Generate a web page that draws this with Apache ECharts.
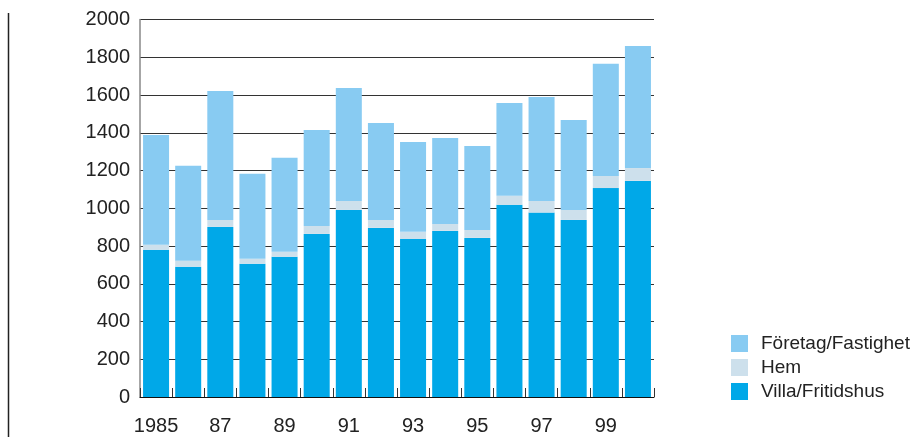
<!DOCTYPE html>
<html>
<head>
<meta charset="utf-8">
<script src="https://cdn.jsdelivr.net/npm/echarts@6/dist/echarts.min.js"></script>
<style>
html,body{margin:0;padding:0;background:#fff;}
#chart{width:915px;height:437px;}
</style>
</head>
<body>
<div id="chart"></div>
<script>
var categories = ['1985','86','87','88','89','90','91','92','93','94','95','96','97','98','99','2000'];
var villa = [780,690,901,706,743,864,991,896,838,880,843,1018,977,938,1107,1145];
var hem = [26,32,37,26,26,42,48,42,37,37,42,48,62,53,64,68];
var foretag = [582,503,683,451,498,509,598,514,476,455,445,492,551,477,594,647];
var yTicks = [0,200,400,600,800,1000,1200,1400,1600,1800,2000];
var seriesNames = ['Villa/Fritidshus','Hem','Företag/Fastighet'];

var colors = ['#00A8E8','#CDE0EC','#88CBF2'];
var font = 'Liberation Sans';
var chart = echarts.init(document.getElementById('chart'));
chart.setOption({
  animation: false,
  textStyle: {fontFamily: font},
  grid: {left: 140, right: 261, top: 19.5, bottom: 40},
  legend: {
    data: [seriesNames[2], seriesNames[1], seriesNames[0]],
    orient: 'vertical',
    left: 726, top: 329,
    itemWidth: 17, itemHeight: 17, itemGap: 5,
    icon: 'rect',
    textStyle: {fontFamily: font, fontSize: 19, color: '#222', padding: [0,0,0,8]}
  },
  xAxis: {
    type: 'category',
    data: categories,
    axisLine: {lineStyle: {color: '#111', width: 1}},
    axisTick: {show: true, inside: true, length: 9, interval: 0, lineStyle: {color: '#333'}},
    axisLabel: {interval: 1, fontSize: 20, color: '#222', margin: 19, fontFamily: font}
  },
  yAxis: {
    type: 'value',
    min: yTicks[0], max: yTicks[yTicks.length-1], interval: 200,
    axisLine: {show: true, lineStyle: {color: '#888', width: 1.5}},
    axisTick: {show: false},
    axisLabel: {fontSize: 20, color: '#222', margin: 10, fontFamily: font,
      formatter: function(v){ return String(v); }},
    splitLine: {show: true, lineStyle: {color: '#333', width: 1}}
  },
  series: [
    {name: seriesNames[0], type: 'bar', stack: 'a', data: villa, barCategoryGap: '19%', itemStyle: {color: colors[0]}},
    {name: seriesNames[1], type: 'bar', stack: 'a', data: hem, itemStyle: {color: colors[1]}},
    {name: seriesNames[2], type: 'bar', stack: 'a', data: foretag, itemStyle: {color: colors[2]}}
  ],
  graphic: [{
    type: 'line', shape: {x1: 8.5, y1: 13, x2: 8.5, y2: 437},
    style: {stroke: '#222', lineWidth: 1.5}
  }]
});
</script>
</body>
</html>
